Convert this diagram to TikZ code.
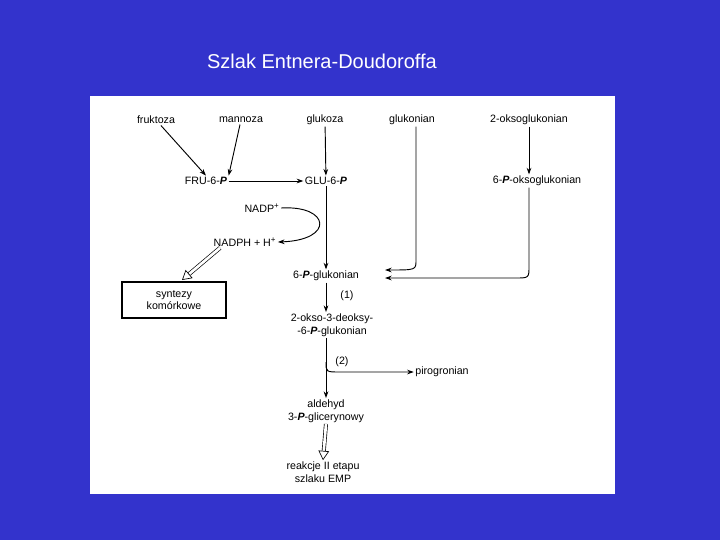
\documentclass[tikz,border=0pt]{standalone}
\usepackage{fontspec}
\setmainfont{Liberation Sans}
\usetikzlibrary{arrows.meta}
\definecolor{bg}{HTML}{3333CC}
\newcommand{\PP}{\textbf{\textit{P}}}
\begin{document}
\begin{tikzpicture}[x=0.75pt,y=-0.75pt,
  lbl/.style={font=\fontsize{8}{9.5}\selectfont,inner sep=1pt,align=center},
  arr/.style={-{Stealth[length=5pt,width=3.5pt]},line width=0.7pt},
  hollow/.style={double,double distance=2pt,line width=0.5pt,-{Triangle[open,length=7pt,width=8pt]}}]
\fill[bg] (0,0) rectangle (720,540);
\useasboundingbox (0,0) rectangle (720,540);
\fill[white] (90,96) rectangle (615,494);
\node[text=white,font=\fontsize{15}{18}\selectfont] (title) at (322,61) {Szlak Entnera-Doudoroffa};
\node[lbl] (fru) at (156,120) {fruktoza};
\node[lbl] (man) at (241,120) {mannoza};
\node[lbl] (glu) at (325,120) {glukoza};
\node[lbl] (gln) at (412,120) {glukonian};
\node[lbl] (ogl) at (529,120) {2-oksoglukonian};
\node[lbl] (fru6) at (206,181) {FRU-6-\PP};
\node[lbl] (glu6) at (326,181) {GLU-6-\PP};
\node[lbl] (pogl) at (537,181) {6-\PP-oksoglukonian};
\node[lbl] (nadp) at (262,208) {NADP\textsuperscript{+}};
\node[lbl] (nadph) at (245,242) {NADPH + H\textsuperscript{+}};
\node[lbl] (pglu) at (326,276) {6-\PP-glukonian};
\node[lbl] (l1) at (347,296) {(1)};
\node[lbl] (kdpg) at (332,325) {2-okso-3-deoksy-\\-6-\PP-glukonian};
\node[lbl] (l2) at (342,362) {(2)};
\node[lbl] (pir) at (442,372) {pirogronian};
\node[lbl] (ald) at (326,411) {aldehyd\\3-\PP-glicerynowy};
\node[lbl] (emp) at (323,472) {reakcje II etapu\\szlaku EMP};
\node[lbl,draw,line width=1.2pt,minimum width=104pt*0.75,minimum height=36pt*0.75] (syn) at (174,300) {syntezy\\komórkowe};
\draw[arr] (fru) -- (fru6.north);
\draw[arr] (man) -- (fru6.north east);
\draw[arr] (fru6) -- (glu6);
\draw[arr] (glu) -- (glu6);
\draw[arr] (glu6) -- (pglu);
\draw[arr] (ogl) -- (pogl.north -| ogl);
\draw[arr] (nadp.east) .. controls (330,205) and (335,240) .. (nadph.east);
\draw[arr] (gln.south -| 416,0) -- (416,260) .. controls (416,270) .. (385,270);
\draw[arr] (pogl.south -| 529,0) -- (529,266) .. controls (529,278) .. (515,278) -- (385,278);
\draw[hollow] (nadph.south west) ++(8,0) -- (182,280);
\draw[arr] (pglu) -- (kdpg.north -| pglu);
\draw[arr] (kdpg.south -| pglu) -- (ald.north);
\coordinate (br) at (326,362);
\draw[arr] (br) .. controls (326,372) .. (340,372) -- (pir.west);
\draw[hollow] (ald.south) -- (emp.north);
\end{tikzpicture}
\end{document}
